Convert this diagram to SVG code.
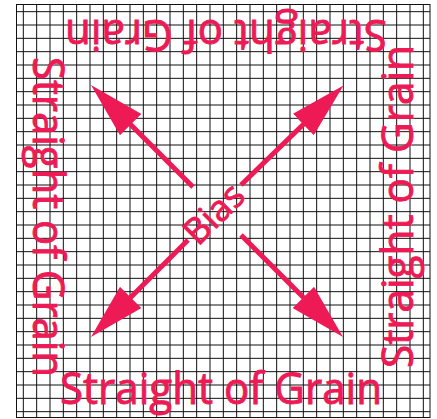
<svg xmlns="http://www.w3.org/2000/svg" width="437" height="419" viewBox="0 0 437 419">
<style>
.grid{fill:none;stroke:#111;stroke-width:1}
.lbl{font-family:"Open Sans","Noto Sans","Liberation Sans",sans-serif;fill:#ED1A55;stroke:#ED1A55;stroke-width:0.9}
.big{font-size:43px}
.bias{font-size:36px}
.shaft{stroke:#ED1A55;stroke-width:5;fill:none}
</style>
<defs>
<marker id="head" markerUnits="userSpaceOnUse" viewBox="0 0 56 30" markerWidth="56" markerHeight="30" refX="11" refY="15" orient="auto">
<path d="M0,0 L56,15 L0,30 Z" fill="#ED1A55"/>
</marker>
</defs>
<rect width="437" height="419" fill="#fff"/>
<g id="grid">
<rect class="grid" x="16.5" y="4.5" width="413.5" height="413"/>
<path class="grid" d="M23.33,4.5V417.5M36.67,4.5V417.5M50,4.5V417.5M63.33,4.5V417.5M76.67,4.5V417.5M90,4.5V417.5M103.33,4.5V417.5M116.67,4.5V417.5M130,4.5V417.5M143.33,4.5V417.5M156.67,4.5V417.5M170,4.5V417.5M183.33,4.5V417.5M196.67,4.5V417.5M210,4.5V417.5M223.33,4.5V417.5M236.67,4.5V417.5M250,4.5V417.5M263.33,4.5V417.5M276.67,4.5V417.5M290,4.5V417.5M303.33,4.5V417.5M316.67,4.5V417.5M330,4.5V417.5M343.33,4.5V417.5M356.67,4.5V417.5M370,4.5V417.5M383.33,4.5V417.5M396.67,4.5V417.5M410,4.5V417.5M423.33,4.5V417.5"/>
<path class="grid" d="M16.5,11.67H430M16.5,25H430M16.5,38.33H430M16.5,51.67H430M16.5,65H430M16.5,78.33H430M16.5,91.67H430M16.5,105H430M16.5,118.33H430M16.5,131.67H430M16.5,145H430M16.5,158.33H430M16.5,171.67H430M16.5,185H430M16.5,198.33H430M16.5,211.67H430M16.5,225H430M16.5,238.33H430M16.5,251.67H430M16.5,265H430M16.5,278.33H430M16.5,291.67H430M16.5,305H430M16.5,318.33H430M16.5,331.67H430M16.5,345H430M16.5,358.33H430M16.5,371.67H430M16.5,385H430M16.5,398.33H430M16.5,411.67H430"/>
</g>
<g id="connectors">
<line class="shaft" x1="193" y1="187" x2="122.8" y2="116.8" marker-end="url(#head)"/>
<line class="shaft" x1="241" y1="185" x2="311.2" y2="116.8" marker-end="url(#head)"/>
<line class="shaft" x1="188" y1="240" x2="122.8" y2="305.2" marker-end="url(#head)"/>
<line class="shaft" x1="241" y1="235" x2="311.2" y2="305.2" marker-end="url(#head)"/>
</g>
<g id="label-bottom"><text class="lbl big" x="60" y="404" textLength="322" lengthAdjust="spacingAndGlyphs">Straight of Grain</text></g>
<g id="label-top"><text class="lbl big" transform="translate(387,20) rotate(180)" x="0" y="0" textLength="322" lengthAdjust="spacingAndGlyphs">Straight of Grain</text></g>
<g id="label-left"><text class="lbl big" transform="translate(32.7,57) rotate(90)" x="0" y="0" textLength="320" lengthAdjust="spacingAndGlyphs">Straight of Grain</text></g>
<g id="label-right"><text class="lbl big" transform="translate(412.5,368) rotate(-90)" x="0" y="0" textLength="323" lengthAdjust="spacingAndGlyphs">Straight of Grain</text></g>
<g id="label-bias"><text class="lbl bias" transform="translate(214,214) rotate(-45)" x="0" y="12" text-anchor="middle">Bias</text></g>
</svg>
